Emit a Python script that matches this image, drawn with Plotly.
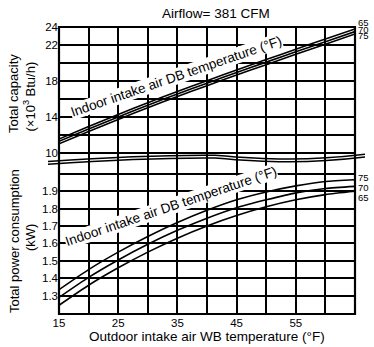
import plotly.graph_objects as go

# ---- data ----
wb_temp = [15, 20, 25, 30, 35, 40, 45, 50, 55, 60, 65]
cap_65 = [11.55, 12.95, 14.30, 15.60, 16.85, 18.05, 19.25, 20.40, 21.55, 22.70, 23.82]
cap_70 = [11.30, 12.68, 14.02, 15.32, 16.57, 17.77, 18.97, 20.12, 21.27, 22.40, 23.52]
cap_75 = [11.03, 12.40, 13.74, 15.04, 16.29, 17.49, 18.69, 19.84, 20.99, 22.12, 23.25]
pow_75 = [1.335, 1.450, 1.550, 1.640, 1.720, 1.790, 1.850, 1.895, 1.930, 1.955, 1.965]
pow_70 = [1.290, 1.405, 1.505, 1.595, 1.675, 1.745, 1.805, 1.850, 1.890, 1.915, 1.927]
pow_65 = [1.245, 1.360, 1.460, 1.550, 1.630, 1.700, 1.760, 1.810, 1.850, 1.880, 1.899]

x_tickvals = [15, 20, 25, 30, 35, 40, 45, 50, 55, 60, 65]
x_ticktext = ["15", " ", "25", " ", "35", " ", "45", " ", "55", " ", " "]
cap_tickvals = [10, 12, 14, 16, 18, 20, 22, 24]
cap_ticktext = ["10", " ", "14", " ", "18", " ", "22", "24"]
pow_tickvals = [1.3, 1.4, 1.5, 1.6, 1.7, 1.8, 1.9, 2.0]
pow_ticktext = ["1.3", "1.4", "1.5", "1.6", "1.7", "1.8", "1.9", " "]

FONT = "Liberation Sans, Arial, sans-serif"
W, H = 374, 347
L, R, T, B = 59, 19, 27, 33
PW, PH = W - L - R, H - T - B


def px(x):
    return (x - L) / PW


def py(y):
    return (H - B - y) / PH


split = py(163)

fig = go.Figure()
line = dict(color="black", width=1.6, shape="spline", smoothing=0.6)
for ys in (cap_65, cap_70, cap_75):
    fig.add_trace(go.Scatter(x=wb_temp, y=ys, mode="lines", line=line,
                             xaxis="x2", yaxis="y2", showlegend=False, hoverinfo="skip"))
for ys in (pow_75, pow_70, pow_65):
    fig.add_trace(go.Scatter(x=wb_temp, y=ys, mode="lines", line=line,
                             xaxis="x", yaxis="y", showlegend=False, hoverinfo="skip"))

grid = dict(showgrid=True, gridcolor="black", gridwidth=2, zeroline=False,
            ticks="", showline=False, tickfont=dict(family=FONT, size=11.5, color="black"))

fig.update_layout(
    width=W, height=H,
    margin=dict(l=L, r=R, t=T, b=B),
    paper_bgcolor="white", plot_bgcolor="white",
    font=dict(family=FONT, color="black"),
    xaxis=dict(domain=[0, 1], range=[15, 65], tickvals=x_tickvals, ticktext=x_ticktext,
               anchor="y", **grid),
    xaxis2=dict(domain=[0, 1], range=[15, 65], tickvals=x_tickvals, ticktext=x_ticktext,
                anchor="y2", showticklabels=False, **grid),
    yaxis=dict(domain=[0, split], range=[1.195, 1.2 + 151 / 175.3], tickvals=pow_tickvals,
               ticktext=pow_ticktext, anchor="x", **grid),
    yaxis2=dict(domain=[split, 1], range=[24 - 136 / 9.0, 24.03], tickvals=cap_tickvals,
                ticktext=cap_ticktext, anchor="x2", **grid),
)

# frame
fig.add_shape(type="rect", xref="paper", yref="paper", x0=0, x1=1, y0=0, y1=1,
              line=dict(color="black", width=2.2), layer="above")


# break lines (decorative)
def wave(offset):
    pts = [(48, 161.5), (120, 156.5), (170, 154.8), (215, 155.2),
           (265, 159.5), (305, 161.5), (365, 154.3)]
    d = "M {:.4f},{:.4f}".format(px(pts[0][0]), py(pts[0][1] + offset))
    d += " C {:.4f},{:.4f} {:.4f},{:.4f} {:.4f},{:.4f}".format(
        px(pts[1][0]), py(pts[1][1] + offset), px(pts[2][0]), py(pts[2][1] + offset),
        px(pts[3][0]), py(pts[3][1] + offset))
    d += " C {:.4f},{:.4f} {:.4f},{:.4f} {:.4f},{:.4f}".format(
        px(pts[4][0]), py(pts[4][1] + offset), px(pts[5][0]), py(pts[5][1] + offset),
        px(pts[6][0]), py(pts[6][1] + offset))
    return d


for off in (0, 2.8):
    fig.add_shape(type="path", xref="paper", yref="paper", path=wave(off),
                  line=dict(color="black", width=1.5), layer="above")

ann = []
ann.append(dict(text="Airflow= 381 CFM", x=px(216), y=py(14), font=dict(size=13.5)))
ann.append(dict(text="Outdoor intake air WB temperature (°F)", x=px(206.5), y=py(336),
                font=dict(size=13.5)))
ann.append(dict(text="Total capacity", x=px(14), y=py(94), textangle=-90, font=dict(size=13)))
ann.append(dict(text="(×10<sup>3</sup> Btu/h)", x=px(29.5), y=py(97), textangle=-90,
                font=dict(size=13)))
ann.append(dict(text="Total power consumption", x=px(14), y=py(241), textangle=-90,
                font=dict(size=13)))
ann.append(dict(text="(kW)", x=px(30), y=py(238), textangle=-90, font=dict(size=13)))
ann.append(dict(text="Indoor intake air DB temperature (°F)", x=px(176), y=py(76),
                textangle=-19, font=dict(size=13.5), bgcolor="white", borderpad=0))
ann.append(dict(text="Indoor intake air DB temperature (°F)", x=px(170.5), y=py(206.5),
                textangle=-18.7, font=dict(size=13.5), bgcolor="white", borderpad=0))
for t, yy in (("65", 22.5), ("70", 29.3), ("75", 35.8), ("75", 177.5), ("70", 187), ("65", 197)):
    ann.append(dict(text=t, x=px(356), y=py(yy), xanchor="left", font=dict(size=9.5)))

for a in ann:
    a.setdefault("xanchor", "center")
    a.update(xref="paper", yref="paper", yanchor="middle", showarrow=False)
    a["font"].update(family=FONT, color="black")
    fig.add_annotation(**a)

fig.write_html("out.html")
